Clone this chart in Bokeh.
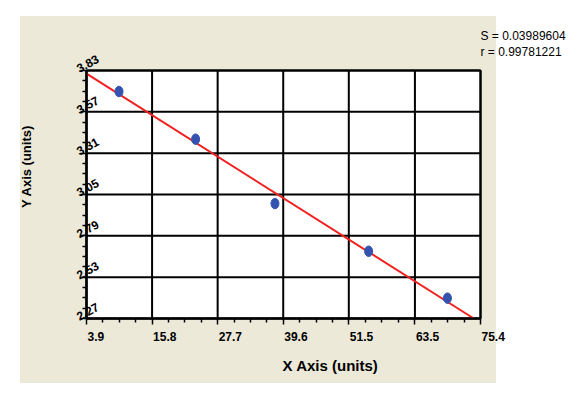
import numpy as np
from bokeh.plotting import figure
from bokeh.models import FixedTicker, Label, LabelSet, Range1d, ColumnDataSource
from bokeh.core.properties import value
from bokeh.embed import file_html
from bokeh.resources import INLINE

# ---- data ----
x_vals = [9.8, 23.7, 38.1, 55.1, 69.4]
y_vals = [3.698, 3.398, 2.993, 2.693, 2.398]
x_tick_labels = ["3.9", "15.8", "27.7", "39.6", "51.5", "63.5", "75.4"]
y_tick_labels = ["2.27", "2.53", "2.79", "3.05", "3.31", "3.57", "3.83"]
stats_lines = ["S = 0.03989604", "r = 0.99781221"]
x_title = "X Axis (units)"
y_title = "Y Axis (units)"

xt = [float(s) for s in x_tick_labels]
yt = [float(s) for s in y_tick_labels]


def minors(t, n=4):
    out = []
    for a, b in zip(t[:-1], t[1:]):
        for k in range(1, n):
            out.append(a + (b - a) * k / n)
    return out


BEIGE = "#ECE9D8"
FONT = "Liberation Sans"
W, H = 568, 399
# plot box in canvas pixels
PL, PR, PT, PB = 86, 480, 70, 318
kx = (xt[-1] - xt[0]) / (PR - PL)
ky = (yt[-1] - yt[0]) / (PB - PT)
xr = Range1d(xt[0] - PL * kx, xt[-1] + (W - PR) * kx)
yr = Range1d(yt[0] - (H - PB) * ky, yt[-1] + PT * ky)

p = figure(width=W, height=H, frame_width=W, frame_height=H, min_border=0,
           x_range=xr, y_range=yr, output_backend="svg", toolbar_location=None)
p.title.visible = False
p.border_fill_color = None
p.background_fill_color = None
p.outline_line_color = None
p.styles = {
    "background-color": "white",
    "background-image": "linear-gradient(%s, %s)" % (BEIGE, BEIGE),
    "background-size": "476px 367px",
    "background-position": "20px 16px",
    "background-repeat": "no-repeat",
}
p.xgrid.visible = False
p.ygrid.visible = False

# plot area
p.quad(left=[xt[0]], right=[xt[-1]], bottom=[yt[0]], top=[yt[-1]],
       fill_color="white", line_color="black", line_width=2)
# grid lines at the ticks
p.segment(x0=xt, y0=[yt[0]] * len(xt), x1=xt, y1=[yt[-1]] * len(xt),
          line_color="black", line_width=2)
p.segment(x0=[xt[0]] * len(yt), y0=yt, x1=[xt[-1]] * len(yt), y1=yt,
          line_color="black", line_width=2)

# axes fixed on the plot box edges
xa, ya = p.xaxis[0], p.yaxis[0]
xa.fixed_location = yt[0]
ya.fixed_location = xt[0]
xa.bounds = (xt[0], xt[-1])
ya.bounds = (yt[0], yt[-1])
xa.ticker = FixedTicker(ticks=xt, minor_ticks=minors(xt))
ya.ticker = FixedTicker(ticks=yt, minor_ticks=minors(yt))
xa.major_label_overrides = {v: "" for v in xt}
ya.major_label_overrides = {v: "" for v in yt}
for ax in (xa, ya):
    ax.axis_line_color = "black"
    ax.axis_line_width = 2
    ax.major_tick_line_color = "black"
    ax.minor_tick_line_color = "black"
    ax.major_tick_line_width = 1.5
    ax.minor_tick_line_width = 1.5
    ax.major_tick_in = 0
    ax.major_tick_out = 6
    ax.minor_tick_in = 0
    ax.minor_tick_out = 4

# tick labels placed like the reference
xsrc = ColumnDataSource(dict(x=xt, y=[yt[0]] * len(xt), t=x_tick_labels))
p.add_layout(LabelSet(x="x", y="y", text="t", source=xsrc, x_offset=1, y_offset=-18,
                      text_align="left", text_baseline="middle", text_font=value(FONT),
                      text_font_style=value("bold"), text_font_size=value("12px"),
                      text_color="black"))
ysrc = ColumnDataSource(dict(x=[xt[0]] * len(yt), y=yt, t=y_tick_labels))
p.add_layout(LabelSet(x="x", y="y", text="t", source=ysrc, x_offset=1, y_offset=7,
                      angle=0.5, text_align="center", text_baseline="middle",
                      text_font=value(FONT), text_font_style=value("bold"),
                      text_font_size=value("12px"), text_color="black"))

# fit line, clipped at the bottom of the plot box
slope, icpt = np.polyfit(x_vals, y_vals, 1)
x_end = min(xt[-1], (yt[0] - icpt) / slope)
lx = [xt[0], x_end]
ly = [icpt + slope * v for v in lx]
p.line(lx, ly, line_color="#F2201E", line_width=2)

p.ellipse(x=x_vals, y=y_vals, width=8, height=10.5, width_units="screen",
          height_units="screen", fill_color="#3452B0", line_color="#3452B0")

p.add_layout(Label(x=330, y=H - 365, x_units="screen", y_units="screen", text=x_title,
                   text_font=FONT, text_font_style="bold", text_font_size="15px",
                   text_color="black", text_align="center", text_baseline="middle"))
p.add_layout(Label(x=26, y=H - 166, x_units="screen", y_units="screen", text=y_title,
                   angle=np.pi / 2, text_font=FONT, text_font_style="bold",
                   text_color="black", text_font_size="13px", text_align="center",
                   text_baseline="middle"))
for i, s in enumerate(stats_lines):
    p.add_layout(Label(x=480, y=H - 35 - 16 * i, x_units="screen", y_units="screen", text=s,
                       text_font=FONT, text_font_size="12px", text_color="black",
                       text_align="left", text_baseline="middle"))

open("out.html", "w").write(file_html(p, INLINE))
